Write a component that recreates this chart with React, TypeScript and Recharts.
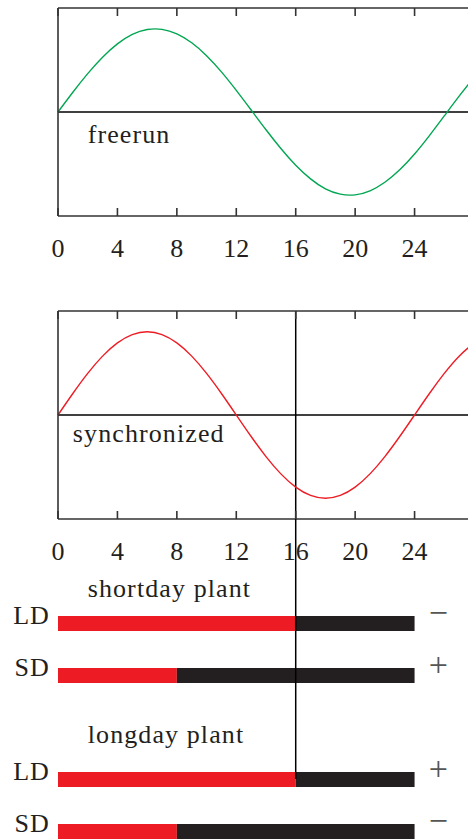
import React from 'react';
import { LineChart, Line, XAxis, YAxis, ReferenceLine, ReferenceDot, BarChart, Bar } from 'recharts';

// ---- data ----
const hours = [0, 1, 2, 3, 4, 5, 6, 7, 8, 9, 10, 11, 12, 13, 14, 15, 16, 17, 18, 19, 20, 21, 22, 23, 24, 25, 26, 27, 28];
const freerunValues = [0, 0.19, 0.369, 0.527, 0.655, 0.746, 0.793, 0.795, 0.752, 0.666, 0.542, 0.386, 0.208, 0.019, -0.171, -0.351, -0.512, -0.643, -0.739, -0.79, -0.797, -0.758, -0.676, -0.556, -0.404, -0.227, -0.038, 0.152, 0.333];
const synchronizedValues = [0, 0.207, 0.4, 0.566, 0.693, 0.773, 0.8, 0.773, 0.693, 0.566, 0.4, 0.207, 0, -0.207, -0.4, -0.566, -0.693, -0.773, -0.8, -0.773, -0.693, -0.566, -0.4, -0.207, 0, 0.207, 0.4, 0.566, 0.693];
const hourTicks = [0, 4, 8, 12, 16, 20, 24];
const criticalHour = 16;
const dayHours = 24;

const rowLabels = ['LD', 'SD', 'LD', 'SD'];
const rowSlots = [2, 3, 5, 6];
const lightHours = [16, 8, 16, 8];
const floweringSigns = ['\u2212', '+', '+', '\u2212'];
const groupTitles = ['shortday plant', 'longday plant'];
const groupSlots = [1.5, 4.3];

// ---- styling ----
const INK = '#231f20';
const AXIS = '#333333';
const GREEN = '#00a651';
const RED = '#ed1c24';
const FONT = "'Liberation Serif', 'Times New Roman', serif";
const textStyle = { fontFamily: FONT, fontSize: 26, fill: INK, letterSpacing: 1.1 } as const;
const tickStyle = { fontFamily: FONT, fontSize: 26, fill: INK } as const;
const signStyle = { fontFamily: FONT, fontSize: 34, fill: '#555555' } as const;

const CHART_W = 484;
const X_DOMAIN: [number, number] = [0, 28];

const textAt = (text: string, anchor: 'start' | 'middle' | 'end', style: any, dy = 0) => (props: any) => {
  const vb = props.viewBox || {};
  return (
    <text x={vb.x} y={(vb.y || 0) + dy} textAnchor={anchor} style={style}>
      {text}
    </text>
  );
};

const RowTick = (props: any) => {
  const { x, y, payload } = props;
  const idx = rowSlots.indexOf(payload.value);
  return (
    <text x={x} y={y + 1} textAnchor="end" style={textStyle}>
      {rowLabels[idx]}
    </text>
  );
};

const noTick = () => <g />;

function CurvePanel({
  values,
  color,
  label,
  labelHour,
  labelValue,
  marker,
}: {
  values: number[];
  color: string;
  label: string;
  labelHour: number;
  labelValue: number;
  marker?: number;
}) {
  const data = hours.map((t, i) => ({ t, v: values[i] }));
  const frame = { stroke: AXIS, strokeWidth: 1.6 };
  return (
    <LineChart width={CHART_W} height={290} data={data} margin={{ top: 8, right: 10, bottom: 0, left: 0 }}>
      <XAxis
        xAxisId="top"
        orientation="top"
        type="number"
        dataKey="t"
        domain={X_DOMAIN}
        ticks={hourTicks}
        mirror
        height={1}
        tick={noTick}
        tickSize={8}
        axisLine={frame}
        tickLine={frame}
      />
      <XAxis
        xAxisId="bottomTicks"
        orientation="bottom"
        type="number"
        dataKey="t"
        domain={X_DOMAIN}
        ticks={hourTicks}
        mirror
        height={1}
        tick={noTick}
        tickSize={8}
        axisLine={frame}
        tickLine={frame}
      />
      <XAxis
        xAxisId="x"
        orientation="bottom"
        type="number"
        dataKey="t"
        domain={X_DOMAIN}
        ticks={hourTicks}
        interval={0}
        height={74}
        axisLine={false}
        tickLine={false}
        tickSize={8}
        tickMargin={14.5}
        tick={tickStyle}
      />
      <YAxis type="number" domain={[-1, 1]} width={58} tick={false} tickLine={false} axisLine={frame} />
      <ReferenceLine xAxisId="x" y={0} stroke="#000" strokeWidth={1.5} />
      {marker !== undefined && <ReferenceLine xAxisId="x" x={marker} stroke="#000" strokeWidth={1.5} />}
      <Line
        xAxisId="x"
        type="natural"
        dataKey="v"
        stroke={color}
        strokeWidth={1.4}
        dot={false}
        activeDot={false}
        isAnimationActive={false}
      />
      <ReferenceDot
        xAxisId="x"
        x={labelHour}
        y={labelValue}
        r={0}
        fill="none"
        stroke="none"
        label={textAt(label, 'start', textStyle)}
      />
    </LineChart>
  );
}

function PhotoperiodBars() {
  const rows = rowSlots.map((slot, i) => ({ slot, light: lightHours[i], dark: dayHours - lightHours[i] }));
  return (
    <BarChart
      width={CHART_W}
      height={364}
      data={rows}
      layout="vertical"
      margin={{ top: 0, right: 10, bottom: 0, left: 0 }}
      barSize={15}
    >
      <XAxis type="number" domain={X_DOMAIN} hide />
      <YAxis
        type="number"
        dataKey="slot"
        domain={[0, 7]}
        width={58}
        ticks={rowSlots}
        interval={0}
        axisLine={false}
        tickLine={false}
        tick={<RowTick />}
      />
      <Bar dataKey="light" stackId="day" fill={RED} isAnimationActive={false} />
      <Bar dataKey="dark" stackId="day" fill={INK} isAnimationActive={false} />
      <ReferenceLine
        segment={[
          { x: criticalHour, y: 0 },
          { x: criticalHour, y: rowSlots[2] },
        ]}
        stroke="#000"
        strokeWidth={1.5}
        ifOverflow="visible"
      />
      {groupTitles.map((title, i) => (
        <ReferenceDot
          key={title}
          x={2}
          y={groupSlots[i]}
          r={0}
          fill="none"
          stroke="none"
          label={textAt(title, 'start', textStyle)}
        />
      ))}
      {floweringSigns.map((s, i) => (
        <ReferenceDot
          key={'sign' + i}
          x={25.6}
          y={rowSlots[i]}
          r={0}
          fill="none"
          stroke="none"
          label={textAt(s, 'middle', signStyle, 1)}
        />
      ))}
    </BarChart>
  );
}

export default function App() {
  return (
    <div
      style={{
        position: 'fixed',
        left: 0,
        top: 0,
        width: 468,
        height: 840,
        overflow: 'hidden',
        background: '#ffffff',
      }}
    >
      <div style={{ position: 'absolute', left: 0, top: 0 }}>
        <CurvePanel values={freerunValues} color={GREEN} label="freerun" labelHour={2} labelValue={-0.3} />
      </div>
      <div style={{ position: 'absolute', left: 0, top: 303 }}>
        <CurvePanel
          values={synchronizedValues}
          color={RED}
          label="synchronized"
          labelHour={1}
          labelValue={-0.26}
          marker={criticalHour}
        />
      </div>
      <div style={{ position: 'absolute', left: 0, top: 518.5 }}>
        <PhotoperiodBars />
      </div>
    </div>
  );
}
